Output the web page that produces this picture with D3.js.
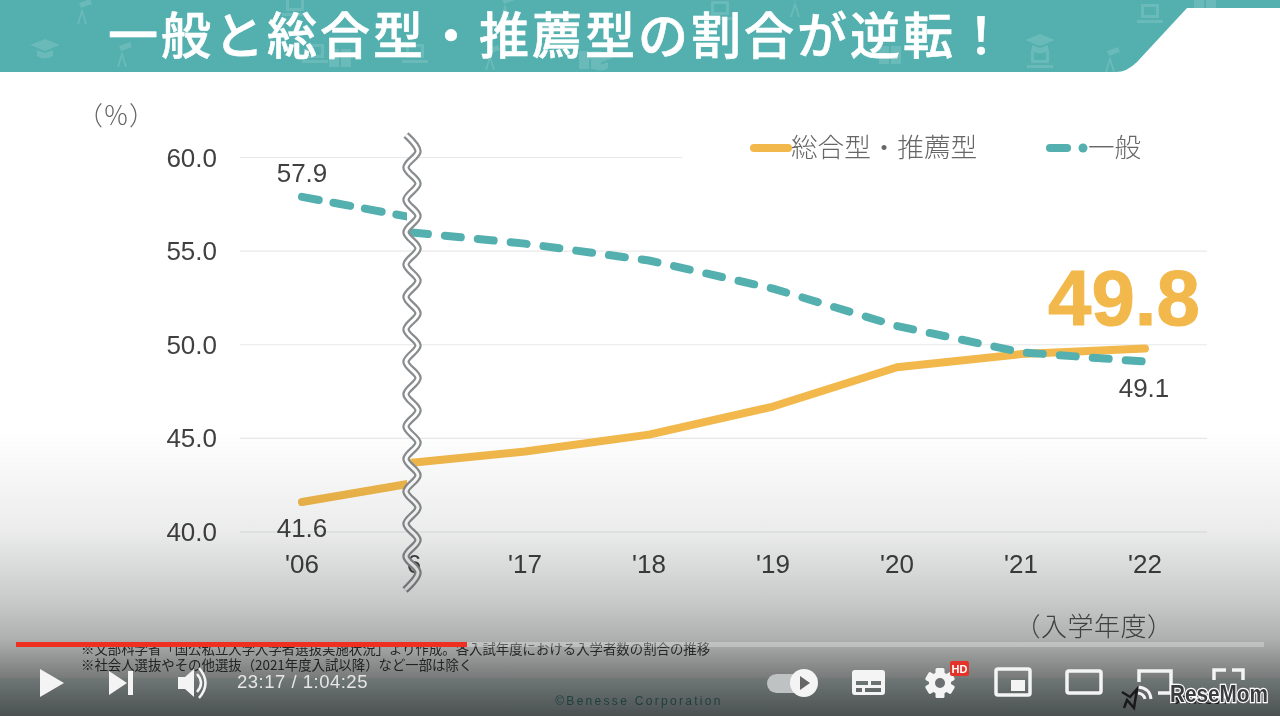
<!DOCTYPE html>
<html lang="ja"><head><meta charset="utf-8">
<script src="https://cdn.jsdelivr.net/npm/d3@7"></script>
<style>html,body{margin:0;padding:0;background:#fff;overflow:hidden}svg{display:block}
text{font-family:"Liberation Sans",Arial,sans-serif}
.jp{font-family:"Noto Sans CJK JP","Noto Sans",sans-serif}</style></head><body>
<svg id="c" width="1280" height="716"></svg>
<script>
// ---- data ----
const title = "一般と総合型・推薦型の割合が逆転！";
const yTicks = [40, 45, 50, 55, 60];
const years = [2006, 2017, 2018, 2019, 2020, 2021, 2022];
const yearLabels = ["'06", "'17", "'18", "'19", "'20", "'21", "'22"];
const laterYears = [2016, 2017, 2018, 2019, 2020, 2021, 2022];
const suisenEarly = [41.6, 42.6];
const suisenLater = [43.7, 44.3, 45.2, 46.7, 48.8, 49.5, 49.8];
const ippanEarly = [57.9, 56.8];
const ippanLater = [56.0, 55.4, 54.5, 53.0, 51.0, 49.6, 49.1];
const earlyYears = [2006, 2016];
const legendNames = ["総合型・推薦型", "一般"];
const notes = ["※文部科学省「国公私立大学入学者選抜実施状況」より作成。各入試年度における入学者数の割合の推移",
               "※社会人選抜やその他選抜（2021年度入試以降）など一部は除く"];

const svg = d3.select("#c");
const TEAL = "#53b0ae", GOLD = "#f2b84b", INK = "#404040";
const defs = svg.append("defs");
const g = defs.append("linearGradient").attr("id","shade").attr("x1",0).attr("x2",0).attr("y1",0).attr("y2",1);
[[0,0],[0.35,0.08],[0.59,0.22],[0.73,0.33],[0.87,0.56],[1,0.72]].forEach(s=>g.append("stop").attr("offset",s[0]).attr("stop-color","#0c1010").attr("stop-opacity",s[1]));
defs.append("clipPath").attr("id","left").append("rect").attr("x",0).attr("y",0).attr("width",407).attr("height",716);

// ---- header ----
svg.append("path").attr("d","M0 0H1280V8H1187L1137 62Q1127 72 1116 72H0Z").attr("fill",TEAL);
const deco = svg.append("g").attr("fill","#fff").attr("opacity",0.13);
[[45,50],[600,62],[1040,45]].forEach(([x,y])=>deco.append("path").attr("transform",`translate(${x},${y})`).attr("d","M-15 -5L0 -11L15 -5L0 1ZM-8 0V6Q0 11 8 6V0L0 3Z"));
[[415,55],[315,55],[1040,60],[1150,15],[720,12],[295,8]].forEach(([x,y])=>deco.append("path").attr("transform",`translate(${x},${y})`).attr("d","M-9 -11H9V3H-9ZM-6 -8V0H6V-8ZM-13 5H13V8H-13Z").attr("fill-rule","evenodd"));
[[122,55],[82,12],[490,58],[505,8],[795,5],[1110,60]].forEach(([x,y])=>deco.append("path").attr("transform",`translate(${x},${y})`).attr("d","M-3 -9L8 -13L10 -8L-1 -4ZM0 -4L-5 12H-3L0 2L3 12H5Z"));
[[890,55],[340,58],[590,60],[1205,8]].forEach(([x,y])=>deco.append("path").attr("transform",`translate(${x},${y})`).attr("d","M-11 -9H-1V9H-11ZM1 -9H11V9H1Z"));
svg.append("text").attr("class","jp").attr("x",108).attr("y",54).attr("font-size",50).attr("font-weight",500).attr("letter-spacing",3).attr("fill","#fff").attr("stroke","#fff").attr("stroke-width",0.6).text(title);

// ---- scales ----
const x = d3.scaleLinear().domain([2006,2016,2017,2022]).range([302,412,525,1145]);
const y = d3.scaleLinear().domain([40,60]).range([532,157.5]);

// ---- grid + y axis ----
const gridG = svg.append("g");
gridG.selectAll("line").data(yTicks).join("line")
  .attr("x1",240).attr("x2",d=>d===60?682:1207).attr("y1",d=>y(d)).attr("y2",d=>y(d))
  .attr("stroke","#e8e8e8").attr("stroke-width",1.2);
svg.append("g").selectAll("text").data(yTicks).join("text")
  .attr("x",217).attr("y",d=>y(d)+9).attr("text-anchor","end").attr("font-size",26).attr("fill",INK)
  .text(d=>d3.format(".1f")(d));
svg.append("g").selectAll("text").data(years).join("text")
  .attr("x",d=>x(d)).attr("y",573).attr("text-anchor","middle").attr("font-size",26).attr("fill",INK)
  .text((d,i)=>yearLabels[i]);
svg.append("text").attr("x",414).attr("y",573).attr("text-anchor","middle").attr("font-size",26).attr("fill",INK).text("6");
svg.append("text").attr("class","jp").attr("x",116).attr("y",125).attr("text-anchor","middle").attr("font-size",26).attr("font-weight",300).attr("fill","#666").text("（％）");
svg.append("text").attr("class","jp").attr("x",1094).attr("y",636).attr("text-anchor","middle").attr("font-size",26).attr("font-weight",300).attr("fill","#555").attr("letter-spacing",0.5).text("（入学年度）");

// ---- lines ----
const line = d3.line().x(d=>x(d[0])).y(d=>y(d[1])).curve(d3.curveLinear);
function draw(xs, vs, color, dash, clip){
  const p = svg.append("path").datum(xs.map((d,i)=>[d,vs[i]])).attr("d",line).attr("fill","none")
    .attr("stroke",color).attr("stroke-width",8).attr("stroke-linecap","round").attr("stroke-linejoin","round");
  if(dash) p.attr("stroke-dasharray",dash);
  if(clip) p.attr("clip-path","url(#left)");
}
draw(earlyYears,suisenEarly,GOLD,null,true);
draw(laterYears,suisenLater,GOLD,null,false);
draw(earlyYears,ippanEarly,TEAL,"17 15",true);
draw(laterYears,ippanLater,TEAL,"16 17.05",false);

// ---- break wave ----
const wavePts = d3.range(0,29).map(i=>[i%2?418:406, 135+i*16.2]);
wavePts[0]=[406,135]; wavePts[28]=[405,590];
const wave = d3.line().curve(d3.curveCatmullRom);
svg.append("path").attr("d",wave(wavePts)).attr("fill","none").attr("stroke","#8a8d8f").attr("stroke-width",7.5);
svg.append("path").attr("d",wave(wavePts)).attr("fill","none").attr("stroke","#fff").attr("stroke-width",3);

// ---- value labels ----
[[302,182,"57.9"],[302,537,"41.6"],[1144,397,"49.1"]].forEach(([a,b,t])=>
  svg.append("text").attr("x",a).attr("y",b).attr("text-anchor","middle").attr("font-size",26).attr("fill",INK).text(t));
svg.append("text").attr("x",1124).attr("y",325).attr("text-anchor","middle").attr("font-size",78).attr("font-weight",700).attr("fill",GOLD).attr("stroke",GOLD).attr("stroke-width",1).text("49.8");

// ---- legend ----
svg.append("line").attr("x1",754).attr("x2",788).attr("y1",148).attr("y2",148).attr("stroke",GOLD).attr("stroke-width",8).attr("stroke-linecap","round");
svg.append("text").attr("class","jp").attr("x",791).attr("y",157).attr("font-size",26.6).attr("font-weight",300).attr("fill","#666").text(legendNames[0]);
svg.append("line").attr("x1",1050).attr("x2",1067).attr("y1",148).attr("y2",148).attr("stroke",TEAL).attr("stroke-width",8).attr("stroke-linecap","round");
svg.append("circle").attr("cx",1083).attr("cy",148).attr("r",4.5).attr("fill",TEAL);
svg.append("text").attr("class","jp").attr("x",1088).attr("y",157).attr("font-size",26.6).attr("font-weight",300).attr("fill","#666").text(legendNames[1]);

// ---- footer of slide ----
notes.forEach((t,i)=>svg.append("text").attr("class","jp").attr("x",81).attr("y",654+i*16).attr("font-size",13.4).attr("fill","#333").text(t));
svg.append("rect").attr("x",0).attr("y",678).attr("width",1280).attr("height",38).attr("fill",TEAL).attr("opacity",0.1);
svg.append("text").attr("x",639).attr("y",705).attr("text-anchor","middle").attr("font-size",12).attr("letter-spacing",2.3).attr("fill","#3f9a98").text("©Benesse Corporation");
svg.append("text").attr("x",1170).attr("y",704).attr("font-family","Liberation Serif").attr("font-size",15).attr("fill","#222").text("Benesse");

// ---- player shade + controls ----
svg.append("rect").attr("x",0).attr("y",430).attr("width",1280).attr("height",286).attr("fill","url(#shade)");
svg.append("rect").attr("x",16).attr("y",642).attr("width",1248).attr("height",5).attr("fill","#fff").attr("opacity",0.28);
svg.append("rect").attr("x",16).attr("y",642).attr("width",451).attr("height",5).attr("fill","#ee3023");
const ctl = svg.append("g").attr("fill","#f4f4f4");
ctl.append("path").attr("d","M40 669L64 683L40 697Z");
ctl.append("path").attr("d","M109 671L127 683L109 695ZM128 671H133V695H128Z");
ctl.append("path").attr("d","M178 677H185L194 669V697L185 689H178Z");
ctl.append("path").attr("d","M197 674Q205 683 197 692").attr("fill","none").attr("stroke","#f4f4f4").attr("stroke-width",2.5);
ctl.append("path").attr("d","M199 668Q212 683 199 698").attr("fill","none").attr("stroke","#f4f4f4").attr("stroke-width",2.5);
svg.append("text").attr("x",237).attr("y",688).attr("font-family","Roboto").attr("font-size",18.5).attr("fill","#e6e6e6").attr("letter-spacing",0.5).text("23:17 / 1:04:25");
ctl.append("rect").attr("x",767).attr("y",674).attr("width",40).attr("height",19).attr("rx",9.5).attr("fill","#bfc2c2");
ctl.append("circle").attr("cx",804).attr("cy",683).attr("r",14);
ctl.append("path").attr("d","M800 676L810 683L800 690Z").attr("fill","#666");
ctl.append("path").attr("fill-rule","evenodd").attr("d","M855 670H882Q885 670 885 673V692Q885 695 882 695H855Q852 695 852 692V673Q852 670 855 670ZM856 681V685H868V681ZM871 681V685H881V681ZM856 688V692H862V688ZM865 688V692H881V688Z");
ctl.append("circle").attr("cx",940).attr("cy",683).attr("r",11);
ctl.append("g").selectAll("rect").data(d3.range(3)).join("rect").attr("x",935.5).attr("y",668).attr("width",9).attr("height",30).attr("rx",1.5).attr("transform",d=>`rotate(${d*60} 940 683)`);
ctl.append("circle").attr("cx",940).attr("cy",683).attr("r",5).attr("fill","#6c6f6f");
svg.append("rect").attr("x",950).attr("y",661).attr("width",19).attr("height",15).attr("rx",2).attr("fill","#e5332a");
svg.append("text").attr("x",959.5).attr("y",673).attr("text-anchor","middle").attr("font-size",11).attr("font-weight",700).attr("fill","#fff").text("HD");
const outline = (a,b,w,h)=>ctl.append("rect").attr("x",a).attr("y",b).attr("width",w).attr("height",h).attr("rx",2).attr("fill","none").attr("stroke","#f4f4f4").attr("stroke-width",3.5);
outline(996,669,34,26);
ctl.append("rect").attr("x",1011).attr("y",680).attr("width",14).attr("height",11);
outline(1067,671,34,22);
ctl.append("path").attr("d","M1139 682V671H1171V693H1158").attr("fill","none").attr("stroke","#f4f4f4").attr("stroke-width",3.5);
ctl.append("path").attr("d","M1138 687Q1150 688 1151 699M1138 693Q1144 694 1145 699").attr("fill","none").attr("stroke","#f4f4f4").attr("stroke-width",3);
ctl.append("path").attr("d","M1214 680V670H1226M1232 670H1243V680").attr("fill","none").attr("stroke","#f4f4f4").attr("stroke-width",3.5);

// ---- watermark ----
svg.append("path").attr("d","M1122 692L1130 697L1137 689L1134 708L1127 700L1124 708").attr("fill","none").attr("stroke","#1a1a1a").attr("stroke-width",2.5);
svg.append("text").attr("x",1170).attr("y",702).attr("font-size",23).attr("font-weight",700).attr("textLength",98).attr("lengthAdjust","spacingAndGlyphs")
  .attr("fill","#3a3d3d").attr("stroke","#fff").attr("stroke-width",2.5).attr("paint-order","stroke").text("ReseMom");
</script></body></html>
